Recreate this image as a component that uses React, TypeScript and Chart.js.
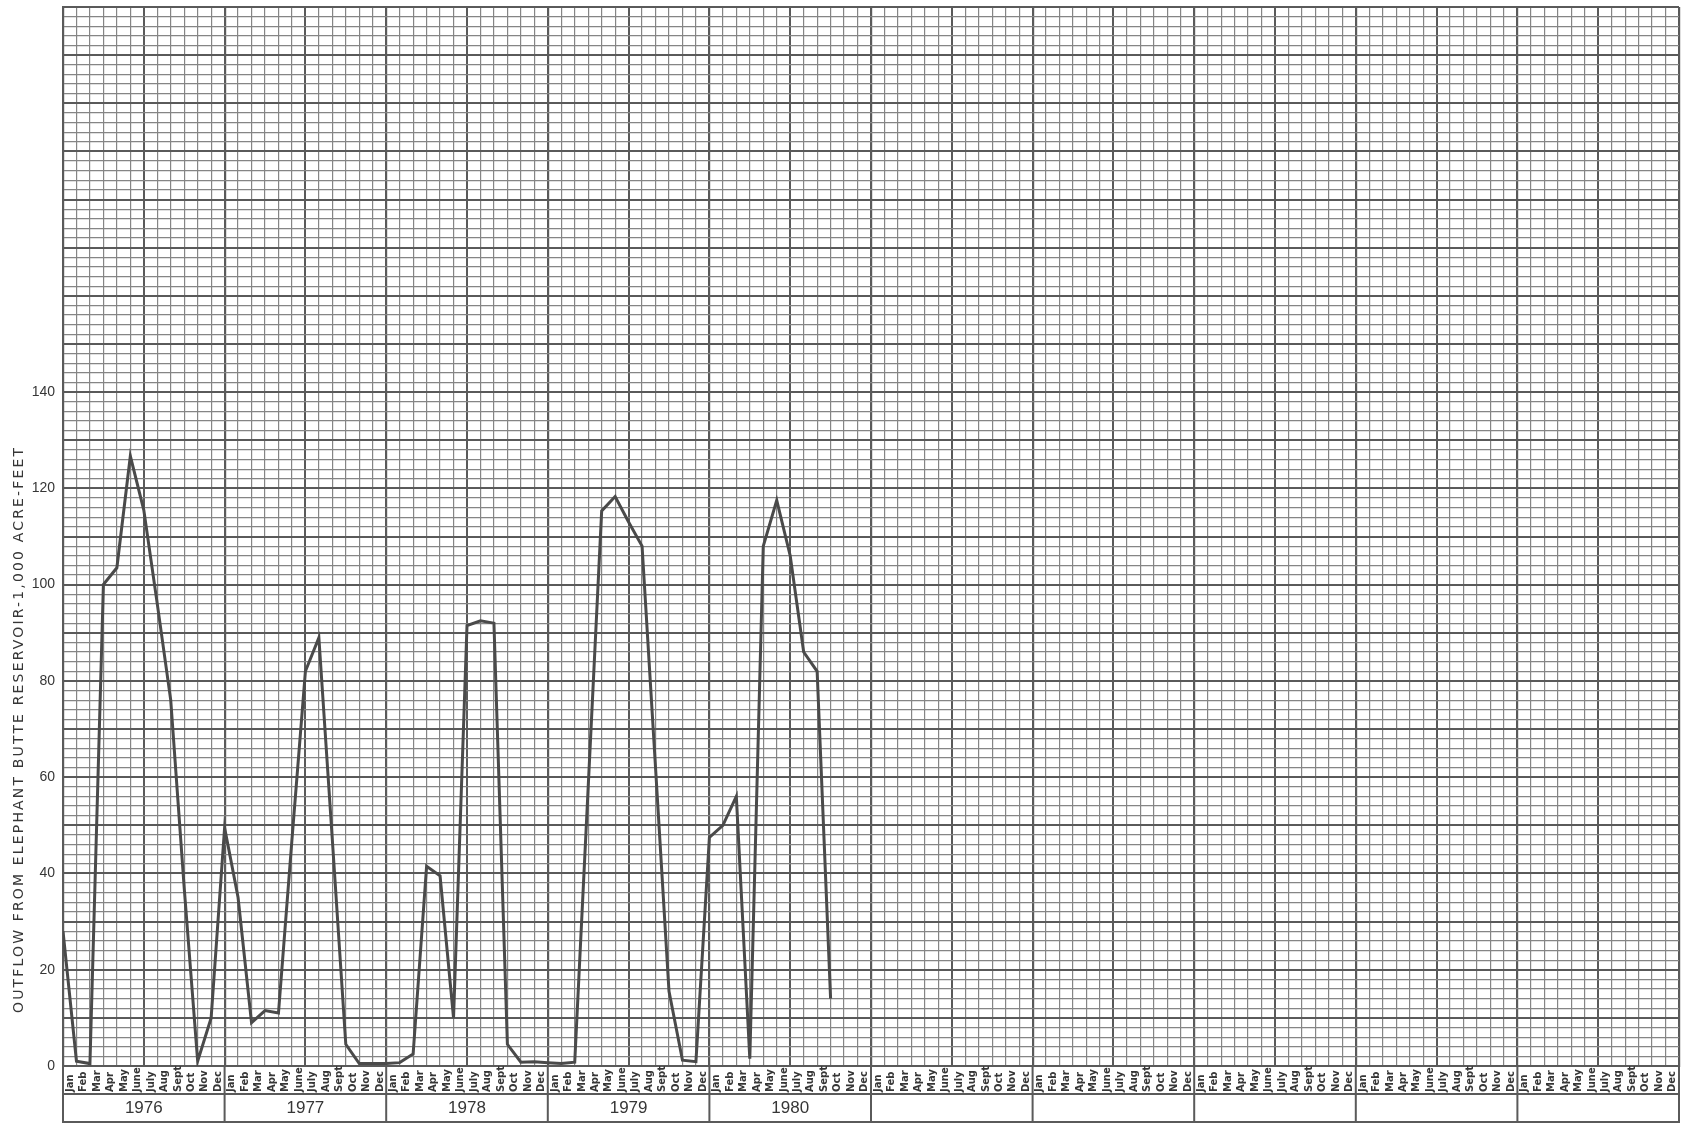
import React, { useEffect, useRef } from 'react';
import { Chart, registerables } from 'chart.js';

Chart.register(...registerables);

// ---- data ----
const MONTHS = ['Jan', 'Feb', 'Mar', 'Apr', 'May', 'June', 'July', 'Aug', 'Sept', 'Oct', 'Nov', 'Dec'];
const YEARS = ['1976', '1977', '1978', '1979', '1980', '', '', '', '', ''];
const Y_LABELS = [0, 20, 40, 60, 80, 100, 120, 140];
const OUTFLOW_1976 = [28, 1, 0.5, 100, 103.5, 126.7, 115.5, 96, 76, 37, 1, 10];
const OUTFLOW_1977 = [49.5, 35, 9, 11.5, 11, 47, 82, 89, 47, 4.5, 0.5, 0.5];
const OUTFLOW_1978 = [0.5, 0.7, 2.5, 41.5, 39.5, 10, 91.5, 92.5, 92, 4.5, 0.8, 0.9];
const OUTFLOW_1979 = [0.7, 0.5, 0.8, 58, 115.3, 118.3, 113, 108, 62, 15.5, 1.2, 0.9];
const OUTFLOW_1980 = [47.5, 50, 56, 1.5, 108, 117.5, 106, 86, 82, 14];
const Y_TITLE = 'OUTFLOW FROM ELEPHANT BUTTE RESERVOIR-1,000 ACRE-FEET';

const MONTH_LABELS = YEARS.flatMap(() => MONTHS);
const OUTFLOW = [...OUTFLOW_1976, ...OUTFLOW_1977, ...OUTFLOW_1978, ...OUTFLOW_1979, ...OUTFLOW_1980];

const MINOR = '#858585';
const MAJOR = '#5a5a5a';
const INK = '#363636';

const paperPlugin = {
  id: 'paper',
  afterDraw(chart: any) {
    const { ctx, chartArea } = chart;
    const x = chart.scales.x;
    const xy = chart.scales.xy;
    ctx.save();
    // month labels (bottom-aligned, reading upward)
    ctx.fillStyle = INK;
    ctx.font = 'bold 10px "DejaVu Sans"';
    ctx.textAlign = 'left';
    ctx.textBaseline = 'middle';
    MONTH_LABELS.forEach((m, i) => {
      const px = x.getPixelForValue(i + 0.5);
      ctx.save();
      ctx.translate(px + 0.5, x.bottom - 2);
      ctx.rotate(-Math.PI / 2);
      ctx.fillText(m, 0, 0);
      ctx.restore();
    });
    // label boxes
    ctx.strokeStyle = MAJOR;
    ctx.lineWidth = 2;
    ctx.beginPath();
    ctx.moveTo(chartArea.left, x.bottom);
    ctx.lineTo(chartArea.right, x.bottom);
    ctx.moveTo(chartArea.left, xy.bottom - 1);
    ctx.lineTo(chartArea.right, xy.bottom - 1);
    for (let k = 0; k <= YEARS.length; k++) {
      const px = x.getPixelForValue(k * 12);
      ctx.moveTo(px, chartArea.bottom);
      ctx.lineTo(px, xy.bottom);
    }
    ctx.stroke();
    // y axis title
    ctx.font = '14px "DejaVu Sans"';
    ctx.fillStyle = INK;
    (ctx as any).letterSpacing = '0px';
    const w = ctx.measureText(Y_TITLE).width;
    const target = 565;
    const sp = (target - w) / (Y_TITLE.length - 1);
    (ctx as any).letterSpacing = sp + 'px';
    ctx.translate(19, 1013);
    ctx.rotate(-Math.PI / 2);
    ctx.textAlign = 'left';
    ctx.textBaseline = 'middle';
    ctx.fillText(Y_TITLE, 0, 0);
    ctx.restore();
  },
};

export default function App() {
  const ref = useRef<HTMLCanvasElement>(null);
  useEffect(() => {
    document.body.style.margin = '0';
    const chart = new Chart(ref.current as HTMLCanvasElement, {
      type: 'line',
      data: {
        datasets: [
          {
            data: OUTFLOW.map((v, i) => ({ x: i, y: v })),
            borderColor: '#4a4a4a',
            borderWidth: 3,
            pointRadius: 0,
            fill: false,
            tension: 0,
            xAxisID: 'x',
            yAxisID: 'y',
          },
        ],
      },
      options: {
        animation: false,
        responsive: false,
        devicePixelRatio: 1,
        layout: { padding: { left: 0, top: 7, right: 3, bottom: 1 } },
        plugins: { legend: { display: false }, tooltip: { enabled: false } },
        scales: {
          x: {
            type: 'linear',
            position: 'bottom',
            weight: 0,
            min: 0,
            max: 120,
            ticks: { display: false, stepSize: 1, autoSkip: false, maxTicksLimit: 1000 },
            grid: {
              drawTicks: false,
              color: (c: any) => (c.tick && c.tick.value % 6 === 0 ? MAJOR : MINOR),
              lineWidth: (c: any) => (c.tick && c.tick.value % 12 === 0 ? 2.2 : c.tick && c.tick.value % 6 === 0 ? 2 : 1.2),
            },
            border: { display: true, color: MAJOR, width: 2 },
            afterFit: (s: any) => {
              s.height = 28;
              s.paddingLeft = 0;
              s.paddingRight = 0;
            },
          },
          xy: {
            type: 'category',
            position: 'bottom',
            weight: 1,
            labels: YEARS,
            offset: true,
            grid: { display: false, drawTicks: false },
            border: { display: false },
            ticks: {
              autoSkip: false,
              maxRotation: 0,
              minRotation: 0,
              padding: 4,
              color: INK,
              font: { family: '"Liberation Sans"', size: 17 },
            },
            afterFit: (s: any) => {
              s.height = 29;
              s.paddingLeft = 0;
              s.paddingRight = 0;
            },
          },
          y: {
            type: 'linear',
            position: 'left',
            min: 0,
            max: 220,
            ticks: {
              stepSize: 2,
              autoSkip: false,
              maxTicksLimit: 1000,
              padding: 8,
              color: INK,
              font: { family: '"Liberation Sans"', size: 14 },
              callback: (v: any) => (Y_LABELS.includes(Math.round(v)) ? String(Math.round(v)) : ''),
            },
            grid: {
              drawTicks: false,
              color: (c: any) => (c.tick && Math.round(c.tick.value) % 10 === 0 ? MAJOR : MINOR),
              lineWidth: (c: any) => (c.tick && Math.round(c.tick.value) % 10 === 0 ? 2 : 1.2),
            },
            border: { display: true, color: MAJOR, width: 2 },
            afterFit: (s: any) => {
              s.width = 63;
              s.paddingTop = 0;
              s.paddingBottom = 0;
            },
          },
        },
      },
      plugins: [paperPlugin],
    } as any);
    return () => chart.destroy();
  }, []);
  return (
    <canvas
      ref={ref}
      width={1682}
      height={1124}
      style={{ display: 'block', width: 1682, height: 1124 }}
    />
  );
}
